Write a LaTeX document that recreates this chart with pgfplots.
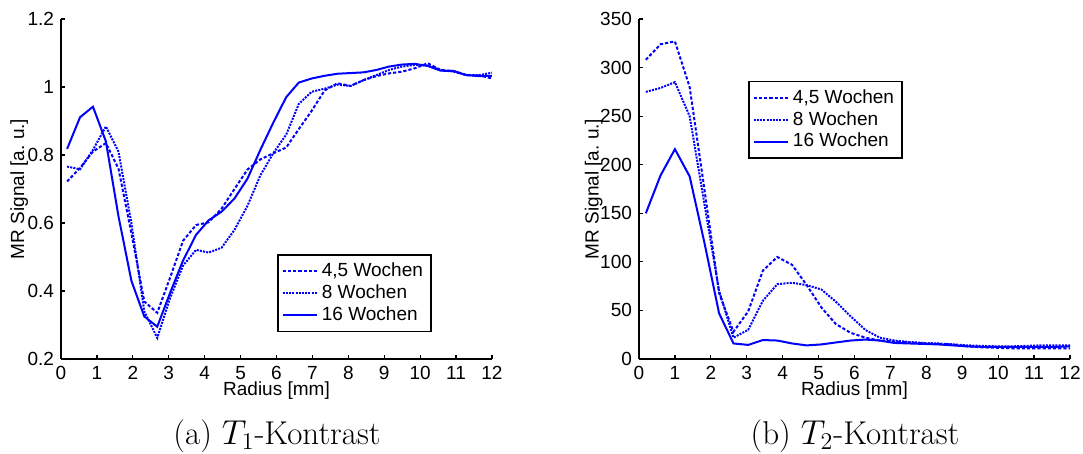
\documentclass[border=0pt]{standalone}
\usepackage{fontspec}
\setmainfont{Liberation Sans}
\newfontfamily\capfont{Latin Modern Roman}
\usepackage{pgfplots}
\pgfplotsset{compat=1.18}
\definecolor{mblue}{RGB}{0,0,255}

\pgfplotsset{
  mstyle/.style={
    scale only axis, width=215.5pt, height=170pt,
    axis x line*=bottom, axis y line*=left,
    axis line style={line width=0.7pt},
    tick align=inside, major tick length=2pt,
    tick style={line width=0.6pt, black},
    xmin=0, xmax=12, xtick={0,1,...,12},
    tick label style={font=\fontsize{9.5}{11}\selectfont},
    label style={font=\fontsize{9.5}{11}\selectfont},
    /pgf/number format/assume math mode=true,
    xlabel={Radius [mm]}, ylabel={MR Signal [a.\ u.]},
    xlabel style={at={(axis description cs:0.5,-0.094)}, anchor=center},
    legend style={draw=black, line width=0.8pt, fill=white,
      font=\fontsize{9.5}{11}\selectfont, row sep=-1.5pt,
      inner xsep=2pt, inner ysep=2pt},
    legend cell align=left,
    legend image post style={line width=1pt},
  },
  wa/.style={mblue, line width=1pt, no marks, dash pattern=on 1.6pt off 1pt},
  wb/.style={mblue, line width=1pt, no marks, dash pattern=on 1pt off 0.6pt},
  wc/.style={mblue, line width=1pt, no marks, solid},
}

\begin{document}
\begin{tikzpicture}
\useasboundingbox (0,0) rectangle (541.5pt,227pt);

\begin{axis}[mstyle, at={(30.5pt,47.5pt)},
  ymin=0.2, ymax=1.2, ytick={0.2,0.4,...,1.2},
  ylabel style={at={(axis description cs:-0.097,0.5)}, anchor=center},
  legend style={at={(0.501,0.079)}, anchor=south west}]
\addplot[wa] coordinates {
(0.17,0.722)(0.53,0.762)(0.89,0.810)(1.25,0.835)(1.60,0.760)(1.96,0.570)
(2.32,0.369)(2.68,0.336)(3.04,0.440)(3.40,0.548)(3.76,0.594)(4.11,0.602)
(4.47,0.642)(4.83,0.700)(5.19,0.757)(5.55,0.787)(5.91,0.805)(6.27,0.822)
(6.62,0.876)(6.98,0.930)(7.34,0.990)(7.70,1.011)(8.06,1.003)(8.42,1.020)
(8.78,1.032)(9.13,1.040)(9.49,1.045)(9.85,1.055)(10.21,1.070)(10.57,1.050)
(10.93,1.047)(11.29,1.035)(11.65,1.034)(12.00,1.025)};
\addlegendentry{4,5 Wochen}
\addplot[wb] coordinates {
(0.17,0.766)(0.53,0.758)(0.89,0.815)(1.25,0.884)(1.60,0.810)(1.96,0.600)
(2.32,0.340)(2.68,0.262)(3.04,0.380)(3.40,0.475)(3.76,0.521)(4.11,0.513)
(4.47,0.527)(4.83,0.580)(5.19,0.650)(5.55,0.740)(5.91,0.805)(6.27,0.860)
(6.62,0.950)(6.98,0.986)(7.34,0.995)(7.70,1.007)(8.06,1.003)(8.42,1.020)
(8.78,1.035)(9.13,1.050)(9.49,1.060)(9.85,1.065)(10.21,1.063)(10.57,1.050)
(10.93,1.045)(11.29,1.035)(11.65,1.035)(12.00,1.042)};
\addlegendentry{8 Wochen}
\addplot[wc] coordinates {
(0.17,0.818)(0.53,0.911)(0.89,0.942)(1.25,0.840)(1.60,0.620)(1.96,0.430)
(2.32,0.325)(2.68,0.295)(3.04,0.395)(3.40,0.490)(3.76,0.565)(4.11,0.608)
(4.47,0.633)(4.83,0.672)(5.19,0.730)(5.55,0.815)(5.91,0.895)(6.27,0.970)
(6.62,1.013)(6.98,1.025)(7.34,1.033)(7.70,1.039)(8.06,1.041)(8.42,1.043)
(8.78,1.050)(9.13,1.060)(9.49,1.066)(9.85,1.068)(10.21,1.062)(10.57,1.048)
(10.93,1.047)(11.29,1.035)(11.65,1.032)(12.00,1.033)};
\addlegendentry{16 Wochen}
\end{axis}

\begin{axis}[mstyle, at={(319.5pt,47.5pt)},
  ymin=0, ymax=350, ytick={0,50,...,350},
  ylabel style={at={(axis description cs:-0.105,0.5)}, anchor=center},
  legend style={at={(0.253,0.818)}, anchor=north west}]
\addplot[wa] coordinates {
(0.19,308)(0.60,324)(1.00,327)(1.41,280)(1.82,175)(2.23,68)
(2.63,28)(3.04,49)(3.45,91)(3.85,105)(4.26,97)(4.67,76)
(5.08,53)(5.48,36)(5.89,27)(6.30,22)(6.70,19)(7.11,18)
(7.52,17)(7.93,16)(8.33,15.5)(8.74,15)(9.15,13)(9.56,12)
(9.96,11.5)(10.37,11)(10.78,11)(11.18,11)(11.59,11)(12.00,11)};
\addlegendentry{4,5 Wochen}
\addplot[wb] coordinates {
(0.19,275)(0.60,279)(1.00,285)(1.41,250)(1.82,160)(2.23,70)
(2.63,22)(3.04,30)(3.45,60)(3.85,77)(4.26,78.5)(4.67,76)
(5.08,71.5)(5.48,59)(5.89,44)(6.30,30)(6.70,22)(7.11,19)
(7.52,17.5)(7.93,16.5)(8.33,16)(8.74,15)(9.15,14)(9.56,13.5)
(9.96,13)(10.37,13)(10.78,13.5)(11.18,14)(11.59,14)(12.00,14)};
\addlegendentry{8 Wochen}
\addplot[wc] coordinates {
(0.19,150)(0.60,189)(1.00,216)(1.41,188)(1.82,120)(2.23,47)
(2.63,16)(3.04,14.5)(3.45,19.5)(3.85,19)(4.26,16)(4.67,14)
(5.08,15)(5.48,17)(5.89,19)(6.30,20)(6.70,19)(7.11,16.5)
(7.52,16)(7.93,15.5)(8.33,15)(8.74,14)(9.15,13)(9.56,12.5)
(9.96,12.5)(10.37,12.5)(10.78,12.5)(11.18,12.5)(11.59,12.5)(12.00,13)};
\addlegendentry{16 Wochen}
\end{axis}

\node[font=\capfont\fontsize{16.5}{18}\selectfont] at (138.5pt,9pt) {(a) $T_1$-Kontrast};
\node[font=\capfont\fontsize{16.5}{18}\selectfont] at (427.5pt,9pt) {(b) $T_2$-Kontrast};
\end{tikzpicture}
\end{document}
